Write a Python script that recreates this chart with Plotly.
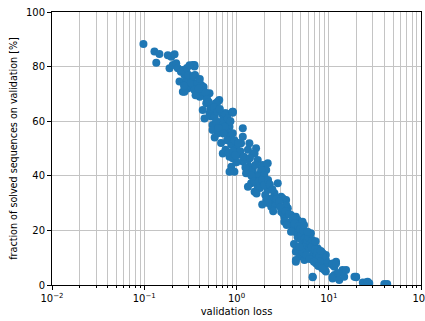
import plotly.graph_objects as go

# validation loss values (x) and fraction solved [%] (y)
loss = [
    0.098, 0.129, 0.146, 0.135, 0.18, 0.196, 0.213, 0.188, 0.204, 0.222, 0.231, 0.25, 0.35,
    0.241, 0.273, 0.285, 0.296, 0.323, 0.336, 0.38, 0.414, 0.355,
    0.35, 0.262, 0.47, 0.63, 0.91, 0.77, 0.51, 0.43, 0.55,
    0.336, 0.262, 0.285, 0.366, 0.273, 0.35, 0.43, 0.40, 0.51, 0.60, 0.47, 0.65, 0.45, 0.53,
    0.58, 0.71, 0.91, 0.77, 0.68, 0.55, 0.84,
    0.60, 0.91, 0.58, 0.74, 0.55, 0.63, 0.77, 0.84, 0.91, 1.17, 1.17, 1.12, 1.38, 1.33, 1.5,
    1.63, 0.71, 0.84, 0.91, 1.03, 1.17, 0.88, 0.95, 0.84, 1.38, 1.5, 1.93, 1.85, 2.1, 1.5, 1.7,
    1.57, 1.33, 1.7, 2.18, 1.44, 1.27, 1.85, 2.0, 2.8, 1.44, 1.33, 1.7, 1.57, 2.18, 2.58, 2.38,
    3.05, 3.45, 2.1, 2.8, 2.38, 3.05, 3.6, 3.9, 4.4, 4.6, 3.3,
    3.18, 3.45, 3.18, 3.3, 4.25, 5.2, 4.4, 4.8, 5.45, 6.2, 4.8, 5.2, 6.2, 7.0, 5.9, 6.7, 7.6,
    8.3, 4.4, 4.8, 4.4, 5.45, 6.7, 8.6, 9.3, 7.3, 9.0, 9.8, 11.0, 12.0, 6.7, 9.3, 11.5, 12.5,
    8.6, 9.3, 11.0, 11.5, 14.1, 12.5, 11.0, 19.0, 19.8, 25.4, 23.4, 40.0, 43.0, 27.5,
    6.7, 4.4, 19.8, 26.4, 11.0, 13.0, 14.7, 15.4, 12.0, 9.0, 8.6, 4.5, 1.0,
    0.30, 0.32, 0.34, 0.38, 0.40, 0.42, 0.44, 0.36, 0.46, 0.48, 0.50, 0.39, 0.27, 0.29, 0.31,
    0.52, 0.57, 0.62, 0.66, 0.70, 0.75, 0.80, 0.86, 0.60, 0.64, 0.72, 0.79, 0.88, 0.95, 1.0,
    0.58, 0.68, 0.76, 0.82, 0.92, 1.05, 1.1, 1.0, 0.97,
    1.2, 1.25, 1.4, 1.45, 1.55, 1.6, 1.75, 1.8, 1.9, 2.0, 2.05, 2.2, 2.3, 2.45, 2.6, 2.7, 2.9,
    3.0, 2.5, 2.2, 1.65, 1.9,
    3.4, 3.7, 3.8, 4.0, 4.1, 4.3, 4.5, 4.6, 4.7, 4.9, 5.0, 5.1, 5.3, 5.5, 5.6, 5.8, 6.0, 6.1,
    6.3, 6.5, 6.6, 6.8, 7.1, 7.3, 7.5, 7.8, 8.0, 8.2, 5.2, 5.7, 6.2, 6.9, 7.7, 8.5, 4.2, 4.8,
    3.9, 3.5, 5.4, 6.4, 7.2, 5.9,
]
solved = [
    88.3, 85.5, 84.6, 81.4, 84.2, 83.6, 84.5, 79.4, 80.6, 81.2, 79.4, 78.1, 80.0,
    74.5, 76.9, 74.5, 72.0, 75.7, 73.3, 71.4, 73.3, 76.9,
    80.6, 70.8, 69.0, 67.2, 63.5, 62.9, 62.9, 64.1, 65.3,
    80.6, 78.8, 75.7, 73.9, 70.8, 71.4, 72.6, 69.0, 70.2, 66.6, 66.6, 67.8, 61.0, 61.7,
    62.9, 62.3, 63.5, 60.4, 58.6, 58.6, 58.0,
    66.6, 63.1, 61.7, 62.9, 56.8, 55.6, 56.2, 54.3, 55.6, 57.4, 54.3, 51.9, 51.9, 49.5, 48.2,
    50.1, 48.2, 47.0, 46.4, 47.6, 45.2, 43.3, 41.5, 41.5, 43.3, 42.1, 44.0, 41.5, 42.1, 39.7, 40.3,
    48.2, 45.8, 45.8, 44.6, 42.1, 40.9, 42.1, 40.3, 37.3, 37.3, 36.0, 36.0, 34.2, 34.8, 33.6, 31.7,
    32.3, 31.1, 31.1, 29.3, 28.7, 26.8, 28.1, 25.6, 25.0, 23.8, 25.0,
    31.7, 29.3, 26.3, 23.2, 24.4, 23.2, 20.8, 19.5, 18.9, 18.3, 17.1, 15.9, 15.9, 15.3, 13.4, 12.8, 13.4,
    12.2, 12.2, 10.4, 8.5, 9.2, 9.8, 10.4, 11.0, 7.9, 7.3, 7.9, 7.3, 8.5, 3.0, 4.9, 3.7, 4.3,
    11.6, 9.2, 7.9, 6.7, 5.5, 4.3, 3.0, 3.0, 2.8, 0.9, 0.9, 0.4, 0.4, 0.6,
    2.8, 9.2, 3.0, 1.2, 2.4, 1.8, 3.0, 5.5, 7.9, 5.5, 10.4, 14.0, 52.0,
    77.0, 74.0, 76.5, 74.0, 75.5, 71.0, 72.5, 69.5, 70.5, 68.0, 67.0, 72.0, 73.0, 79.5, 80.5,
    64.5, 65.0, 63.5, 64.5, 60.0, 58.0, 61.0, 60.0, 60.0, 57.5, 55.5, 53.0, 51.5, 53.0, 50.0,
    54.0, 52.0, 49.5, 48.5, 49.0, 52.0, 49.0, 45.0, 47.5,
    47.0, 43.0, 46.5, 40.0, 38.0, 44.0, 38.0, 35.5, 38.5, 36.5, 33.0, 38.5, 36.8, 35.0, 30.0, 31.5, 30.5,
    28.5, 27.0, 30.0, 33.5, 29.5,
    27.0, 26.0, 23.0, 21.5, 24.5, 22.5, 19.0, 17.5, 21.5, 20.5, 18.0, 16.5, 20.0, 17.0, 14.5, 16.5, 17.5, 13.5,
    15.0, 14.0, 16.5, 11.5, 13.0, 10.5, 12.0, 10.0, 8.5, 12.5, 12.0, 11.0, 9.5, 8.5, 7.0, 6.0, 15.0, 14.0,
    19.5, 22.0, 22.0, 19.0, 16.0, 19.5,
]

x_major = [0.01, 0.1, 1, 10, 100]
x_major_text = ["10<sup>−2</sup>", "10<sup>−1</sup>", "10<sup>0</sup>", "10<sup>1</sup>", "10<sup>2</sup>"]
x_minor = [m * d for d in [0.01, 0.1, 1, 10] for m in range(2, 10)]
y_ticks = [0, 20, 40, 60, 80, 100]

fig = go.Figure(go.Scatter(
    x=loss, y=solved, mode="markers",
    marker=dict(color="#1f77b4", size=8, line=dict(width=0)),
))

grid = "#c4c4c4"
fig.update_layout(
    width=425, height=321,
    margin=dict(l=52, r=4, t=12, b=36),
    paper_bgcolor="white", plot_bgcolor="white",
    font=dict(family="DejaVu Sans", size=10, color="black"),
    showlegend=False,
)
fig.update_xaxes(
    type="log", range=[-2, 2.00001], automargin=False,
    tickvals=x_major, ticktext=x_major_text, ticklabeloverflow="allow",
    ticks="outside", ticklen=4, tickwidth=1, tickcolor="black",
    showgrid=True, gridcolor=grid, gridwidth=1,
    minor=dict(tickvals=x_minor, ticks="outside", ticklen=2, tickcolor="black",
               showgrid=True, gridcolor=grid, gridwidth=1),
    showline=True, linecolor="black", linewidth=1, mirror=True,
    title=dict(text="validation loss", standoff=4, font=dict(size=10)),
    zeroline=False,
)
fig.update_yaxes(
    range=[0, 100], tickvals=y_ticks, automargin=False,
    ticks="outside", ticklen=4, tickwidth=1, tickcolor="black",
    showgrid=True, gridcolor=grid, gridwidth=1,
    showline=True, linecolor="black", linewidth=1, mirror=True,
    title=dict(text="fraction of solved sequences on validation [%]", standoff=6, font=dict(size=9.6)),
    zeroline=False,
)

fig.write_html("out.html")
